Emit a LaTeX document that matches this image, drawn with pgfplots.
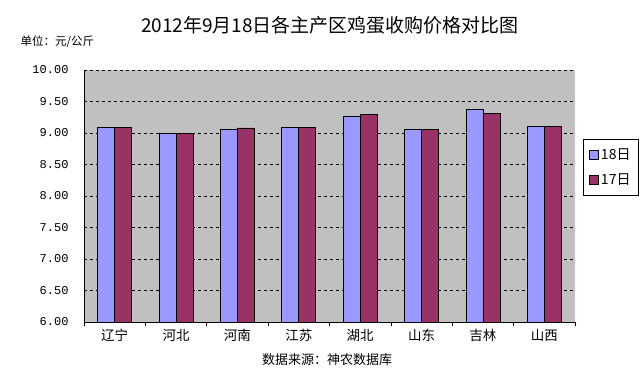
\documentclass[border=0pt]{standalone}
\usepackage{fontspec}
\setmainfont{Noto Sans CJK SC}
\newfontfamily\monofont{Liberation Mono}
\usepackage{pgfplots}
\pgfplotsset{compat=1.18}
\definecolor{barA}{HTML}{9999FF}
\definecolor{barB}{HTML}{993366}
\definecolor{bgGray}{HTML}{C0C0C0}
\begin{document}
\begin{tikzpicture}
\useasboundingbox (-84pt,-50pt) rectangle (558pt,322pt);
\begin{axis}[
  at={(0pt,0pt)}, anchor=south west,
  scale only axis, width=491pt, height=252pt,
  ybar=0pt, bar width=17pt,
  xmin=-0.5, xmax=7.5, ymin=6, ymax=10,
  xtick={0,...,7},
  xticklabels={辽宁,河北,河南,江苏,湖北,山东,吉林,山西},
  minor xtick={-0.5,0.5,...,7.5},
  ytick={6,6.5,...,10},
  axis x line*=bottom, axis y line*=left,
  axis line style={-, black, line width=0.8pt},
  tick pos=left, tick align=outside,
  major tick length=0pt, minor tick length=4pt,
  every minor tick/.style={black, line width=0.6pt},
  ymajorgrids, grid style={black, dashed, line width=0.6pt},
  axis background/.style={fill=bgGray},
  yticklabel style={font=\monofont\fontsize{12}{14}\selectfont, xshift=-12pt},
  xticklabel style={font=\fontsize{13.5}{15}\selectfont, yshift=-4pt},
  yticklabel={\pgfmathprintnumber[fixed,fixed zerofill,precision=2]{\tick}},
  /pgf/number format/assume math mode=true,
  legend style={at={(1.0163,0.726)}, anchor=north west, draw=black, fill=white,
    font=\fontsize{14}{16}\selectfont, row sep=9pt, inner xsep=6pt, inner ysep=7pt},
  legend image code/.code={\draw[#1] (0pt,-4.5pt) rectangle (9pt,4.5pt);},
]
\addplot[fill=barA, draw=black, line width=0.8pt] coordinates {
  (0,9.09) (1,9.00) (2,9.06) (3,9.09) (4,9.26) (5,9.06) (6,9.37) (7,9.11)};
\addplot[fill=barB, draw=black, line width=0.8pt] coordinates {
  (0,9.09) (1,9.00) (2,9.08) (3,9.09) (4,9.29) (5,9.05) (6,9.31) (7,9.10)};
\legend{18日,17日}
\draw[gray, densely dashed, line width=0.8pt] (rel axis cs:1,0) -- (rel axis cs:1,1);
\end{axis}
\node[font=\fontsize{19}{21}\selectfont] at (246pt,297pt) {2012年9月18日各主产区鸡蛋收购价格对比图};
\node[font=\fontsize{11.5}{13}\selectfont, anchor=west] at (-67pt,280pt) {单位：元/公斤};
\node[font=\fontsize{13}{15}\selectfont] at (243pt,-38pt) {数据来源：神农数据库};
\end{tikzpicture}
\end{document}
